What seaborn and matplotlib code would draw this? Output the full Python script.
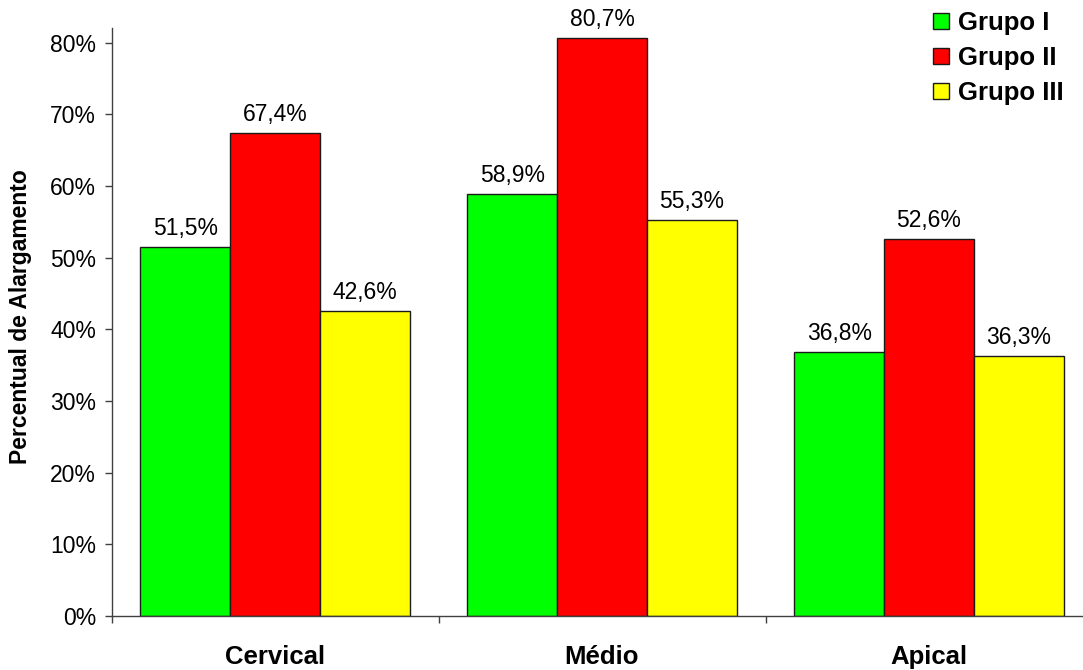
import numpy as np
import pandas as pd
import matplotlib
matplotlib.use("Agg")
import matplotlib.pyplot as plt
from matplotlib.ticker import PercentFormatter, FixedLocator
import seaborn as sns

# Percentual de alargamento por região e grupo
regioes = ["Cervical", "Médio", "Apical"]
grupos = ["Grupo I", "Grupo II", "Grupo III"]
grupo_1 = [51.5, 58.9, 36.8]
grupo_2 = [67.4, 80.7, 52.6]
grupo_3 = [42.6, 55.3, 36.3]
cores = ["#00FF00", "#FF0000", "#FFFF00"]

df = pd.DataFrame({
    "Região": regioes * 3,
    "Grupo": [g for g in grupos for _ in regioes],
    "Valor": grupo_1 + grupo_2 + grupo_3,
})

sns.set_theme(style="white")
plt.rcParams["font.family"] = ["Liberation Sans", "DejaVu Sans"]
plt.rcParams["text.color"] = "black"
plt.rcParams["axes.labelcolor"] = "black"

fig = plt.figure(figsize=(10.83, 6.70), dpi=100)
ax = fig.add_axes([111.5 / 1083, 54 / 670, 981 / 1083, 587.6 / 670])

sns.barplot(data=df, x="Região", y="Valor", hue="Grupo", order=regioes,
            hue_order=grupos, palette=cores, width=0.823, ax=ax,
            edgecolor="#1a1a1a", linewidth=1.0, saturation=1)

# value labels above each bar
for cont in ax.containers:
    for bar in cont:
        v = bar.get_height()
        ax.annotate(f"{v:.1f}%".replace(".", ","),
                    (bar.get_x() + bar.get_width() / 2, v),
                    xytext=(0, 8.5), textcoords="offset points",
                    ha="center", va="baseline", fontsize=16.5, color="black")

ax.set_xlim(-0.5, 2.5)
ax.set_ylim(0, 82)
ax.set_yticks(np.arange(0, 81, 10))
ax.yaxis.set_major_formatter(PercentFormatter(xmax=100, decimals=0))

for side in ("top", "right"):
    ax.spines[side].set_visible(False)
for side in ("left", "bottom"):
    ax.spines[side].set_color("#404040")
    ax.spines[side].set_linewidth(1.0)

ax.tick_params(axis="y", direction="out", length=5, width=1.0, color="#404040",
               labelsize=16.5, labelcolor="black", pad=6, left=True)
ax.tick_params(axis="x", which="major", length=0, pad=21,
               labelsize=18.5, labelcolor="black")
ax.xaxis.set_minor_locator(FixedLocator([-0.5, 0.5, 1.5, 2.5]))
ax.tick_params(axis="x", which="minor", direction="out", length=5, width=1.0,
               color="#404040", bottom=True)
for lbl in ax.get_xticklabels():
    lbl.set_fontweight("bold")

ax.set_xlabel("")
ax.set_ylabel("Percentual de Alargamento", fontsize=16.5, fontweight="bold",
              color="black")
ax.yaxis.set_label_coords((32 - 111.5) / 981, 0.51)

handles, labels = ax.get_legend_handles_labels()
leg = ax.legend(handles, labels, loc="upper left",
                bbox_to_anchor=(933 / 1083, 1 - 11 / 670),
                bbox_transform=fig.transFigure, frameon=False,
                prop={"weight": "bold", "size": 18.5},
                handlelength=0.62, handleheight=0.62, handletextpad=0.35,
                labelspacing=0.43, borderpad=0, borderaxespad=0)
for t in leg.get_texts():
    t.set_color("black")

fig.savefig("out.png", dpi=100)
